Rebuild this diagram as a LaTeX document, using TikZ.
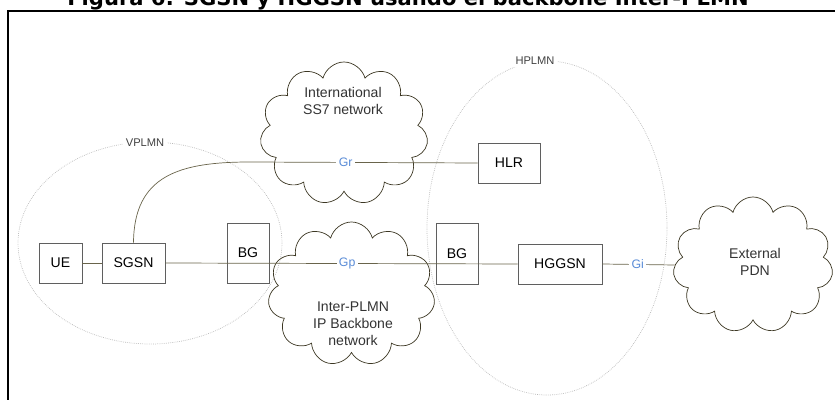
\documentclass[tikz,border=0pt]{standalone}
\usepackage{fontspec}
\setmainfont{Liberation Sans}
\newfontfamily\titlefont{DejaVu Sans}
\usetikzlibrary{shapes.symbols}

\definecolor{boxgray}{RGB}{95,95,95}
\definecolor{wire}{RGB}{105,100,75}
\definecolor{puff}{RGB}{60,55,35}
\definecolor{iflabel}{RGB}{90,140,215}

\begin{document}
\begin{tikzpicture}[
  x=0.03cm, y=-0.03cm,
  font=\fontsize{12}{14.5}\selectfont,
  elem/.style={
    draw=boxgray,
    line width=0.6pt,
    minimum height=1.2cm,
    inner sep=0pt
  },
  network/.style={
    cloud,
    cloud puffs=11,
    cloud ignores aspect,
    draw=puff,
    line width=0.6pt,
    inner sep=0pt
  },
  netlabel/.style={
    align=center,
    text=black!80
  },
  link/.style={
    draw=wire,
    line width=0.6pt
  },
  iface/.style={
    font=\fontsize{10.5}{12}\selectfont,
    text=iflabel,
    fill=white,
    inner sep=2pt
  },
  plmn/.style={
    draw=gray!55,
    densely dotted,
    line width=0.6pt
  },
  plmnlabel/.style={
    font=\fontsize{9.5}{11}\selectfont,
    text=black!75,
    fill=white,
    inner sep=2pt
  }
]
\useasboundingbox (0,0) rectangle (835,400);

% Title (cut by the page top, as in the scan)
\node[font=\titlefont\bfseries\fontsize{18}{20}\selectfont, anchor=base] (title)
  at (408,6) {Figura 6: SGSN y HGGSN usando el backbone Inter-PLMN};

% Frame
\draw[line width=1.2pt] (8,410) |- (845,11);

% -------------------------------------------------------------------
% PLMN areas
% -------------------------------------------------------------------
\draw[plmn] (150,243) ellipse [x radius=132, y radius=101];
\draw[plmn] (547,228) ellipse [x radius=120, y radius=167];
\node[plmnlabel] (vplmn) at (145,143) {VPLMN};
\node[plmnlabel] (hplmn) at (535,61) {HPLMN};

% -------------------------------------------------------------------
% Clouds
% -------------------------------------------------------------------
\node[network, minimum width=5.04cm, minimum height=4.29cm] (ss7) at (344,133.5) {};
\node[netlabel] (ss7txt) at (343,101) {International\\SS7 network};

\node[network, minimum width=5.01cm, minimum height=4.32cm] (ipbb) at (351.5,294) {};
\node[netlabel] (ipbbtxt) at (353,324) {Inter-PLMN\\IP Backbone\\network};

\node[network, minimum width=4.8cm, minimum height=4.08cm] (pdn) at (753,265) {};
\node[netlabel] (pdntxt) at (755,262) {External\\PDN};

% -------------------------------------------------------------------
% Elements
% -------------------------------------------------------------------
\node[elem, minimum width=1.29cm] (ue) at (60.5,263) {UE};
\node[elem, minimum width=1.89cm] (sgsn) at (133.5,263) {SGSN};
\node[elem, minimum width=1.26cm, minimum height=1.8cm] (bg1) at (248,253) {BG};
\node[elem, minimum width=1.26cm, minimum height=1.83cm] (bg2) at (457,253.5) {BG};
\node[elem, minimum width=2.52cm] (hggsn) at (560,264) {HGGSN};
\node[elem, minimum width=1.86cm] (hlr) at (509,163) {HLR};

% -------------------------------------------------------------------
% Links
% -------------------------------------------------------------------
\coordinate (grbend) at (250,162);
\draw[link] (sgsn.north) .. controls (134,175) and (180,162) .. (grbend)
  -- node[iface, pos=0.42] (gr) {Gr} (hlr.west);
\draw[link] (ue.east) -- (sgsn.west);
\draw[link] (sgsn.east) -- node[iface, pos=0.516] (gp) {Gp} (hggsn.west);
\draw[link] (hggsn.east) -- node[iface, pos=0.49] (gi) {Gi} (pdn.west);

\end{tikzpicture}
\end{document}
